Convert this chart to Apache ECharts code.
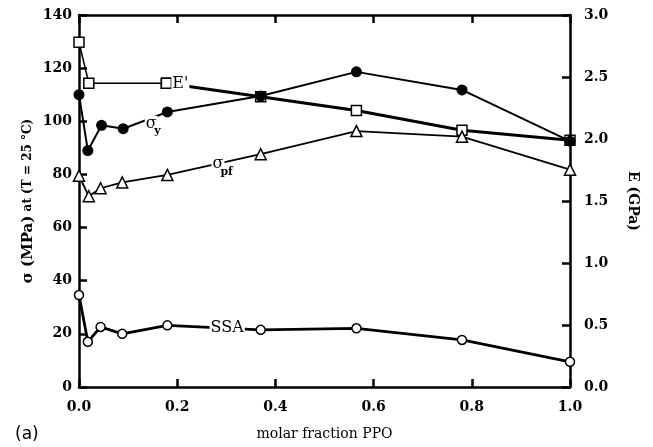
<!DOCTYPE html>
<html><head><meta charset="utf-8">
<script src="https://cdn.jsdelivr.net/npm/echarts@6/dist/echarts.min.js"></script>
<style>html,body{margin:0;padding:0;background:#fff}#c{width:653px;height:447px}</style>
</head><body><div id="c"></div>
<script>
// molar fraction PPO
const xSigmaY = [0, 0.018, 0.046, 0.09, 0.18, 0.37, 0.565, 0.78, 1.0];
const sigmaY  = [110, 89, 98.5, 97.2, 103.5, 109.5, 118.6, 111.8, 92.5];
const xSigmaPf = [0, 0.02, 0.044, 0.088, 0.18, 0.37, 0.565, 0.78, 1.0];
const sigmaPf  = [79.5, 71.8, 74.8, 77, 79.8, 87.6, 96.3, 94.2, 81.8];
const xSSA = [0, 0.018, 0.044, 0.088, 0.18, 0.37, 0.565, 0.78, 1.0];
const ssa  = [34.6, 17, 22.6, 20, 23.2, 21.5, 22.1, 17.7, 9.5];
const xE = [0, 0.02, 0.178, 0.37, 0.565, 0.78, 1.0];
const eMod = [2.78, 2.45, 2.45, 2.34, 2.23, 2.07, 1.99]; // GPa
const leftTicks = [0, 20, 40, 60, 80, 100, 120, 140];
const rightTicks = [0, 0.5, 1.0, 1.5, 2.0, 2.5, 3.0];
const xTicks = [0, 0.2, 0.4, 0.6, 0.8, 1.0];

const pts = (xs, ys) => xs.map((x, i) => [x, ys[i]]);
const tickFont = () => ({fontFamily: 'DejaVu Serif', fontWeight: 'bold', fontSize: 14, color: '#000'});
const axLine = () => ({show: true, onZero: false, lineStyle: {color: '#000', width: 2.5}});
const tick = () => ({show: true, inside: true, length: 8, lineStyle: {color: '#000', width: 2.5}});

const chart = echarts.init(document.getElementById('c'), null, {renderer: 'canvas'});
const openSym = {color: '#fff', borderColor: '#000', borderWidth: 1.5};
chart.setOption({
  animation: false,
  backgroundColor: '#fff',
  grid: {left: 79, right: 83, top: 15, bottom: 60},
  xAxis: [{
    type: 'value', min: 0, max: 1, interval: 0.2, position: 'bottom',
    axisLine: axLine(), axisTick: tick(), splitLine: {show: false},
    axisLabel: Object.assign({margin: 13, formatter: v => v.toFixed(1)}, tickFont()),
    name: 'molar fraction PPO', nameLocation: 'middle', nameGap: 40,
    nameTextStyle: {fontFamily: 'DejaVu Serif', fontSize: 14, color: '#000'}
  }, {
    type: 'value', min: 0, max: 1, interval: 0.2, position: 'top',
    axisLine: axLine(), axisTick: tick(), splitLine: {show: false}, axisLabel: {show: false}
  }],
  yAxis: [{
    type: 'value', min: 0, max: 140, interval: 20, position: 'left',
    axisLine: axLine(), axisTick: tick(), splitLine: {show: false},
    axisLabel: Object.assign({margin: 7}, tickFont())
  }, {
    type: 'value', min: 0, max: 3, interval: 0.5, position: 'right',
    axisLine: axLine(), axisTick: tick(), splitLine: {show: false},
    axisLabel: Object.assign({margin: 14, formatter: v => v.toFixed(1)}, tickFont()),
    name: 'E (GPa)', nameLocation: 'middle', nameRotate: -90, nameGap: 56,
    nameTextStyle: {fontFamily: 'DejaVu Serif', fontWeight: 'bold', fontSize: 14, color: '#000'}
  }],
  series: [
    {type: 'line', yAxisIndex: 1, data: pts(xE, eMod).slice(0, 3), symbol: 'rect', symbolSize: 10,
     lineStyle: {color: '#000', width: 1.5}, itemStyle: openSym, z: 2},
    {type: 'line', yAxisIndex: 1, data: pts(xE, eMod).slice(2), symbol: 'rect', symbolSize: 10,
     lineStyle: {color: '#000', width: 3}, itemStyle: openSym, z: 2},
    {type: 'line', data: pts(xSigmaPf, sigmaPf), symbol: 'triangle', symbolSize: 11,
     lineStyle: {color: '#000', width: 1.8}, itemStyle: openSym, z: 3},
    {type: 'line', data: pts(xSSA, ssa), symbol: 'circle', symbolSize: 9,
     lineStyle: {color: '#000', width: 2.8}, itemStyle: openSym, z: 3},
    {type: 'line', data: pts(xSigmaY, sigmaY), symbol: 'circle', symbolSize: 11,
     lineStyle: {color: '#000', width: 2}, itemStyle: {color: '#000'}, z: 4}
  ]
});

function P(x, y) { return chart.convertToPixel({xAxisIndex: 0, yAxisIndex: 0}, [x, y]); }
const lab = (x, y, text, font, bg) => {
  const p = P(x, y);
  return {type: 'text', x: p[0], y: p[1], z: 10,
    style: {text: text, fill: '#000', font: font, textVerticalAlign: 'middle',
      backgroundColor: bg ? '#fff' : null, padding: [0, 1]}};
};
chart.setOption({graphic: [
  lab(0.188, 114, "E'", '16px "DejaVu Serif"', true),
  lab(0.134, 99, 'σ', '16px "DejaVu Serif"', true),
  lab(0.151, 96.3, 'y', 'bold 11px "DejaVu Serif"', true),
  lab(0.27, 84, 'σ', '16px "DejaVu Serif"', true),
  lab(0.286, 80.8, 'pf', 'bold 11px "DejaVu Serif"', true),
  lab(0.266, 22.3, 'SSA', '16px "DejaVu Serif"', true),
  {type: 'text', left: 15, top: 426, style: {text: '(a)', fill: '#000', font: '17px "DejaVu Sans"'}},
  {type: 'text', x: 28, y: 201, rotation: Math.PI / 2, z: 10,
   style: {text: '{a|σ (MPa)}{b| at (T = 25 °C)}', fill: '#000', align: 'center', verticalAlign: 'middle',
     rich: {a: {fontFamily: 'DejaVu Serif', fontWeight: 'bold', fontSize: 15},
            b: {fontFamily: 'DejaVu Serif', fontWeight: 'bold', fontSize: 12}}}}
]});
</script></body></html>
